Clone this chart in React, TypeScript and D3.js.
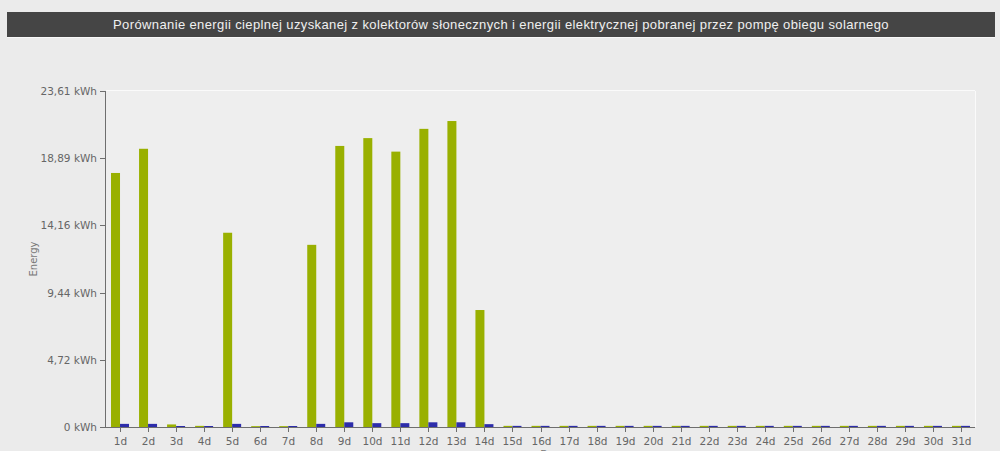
import React from "react";
import * as d3 from "d3";

const days: string[] = Array.from({ length: 31 }, (_, i) => `${i + 1}d`);
const heatEnergy: number[] = [
  17.85, 19.55, 0.18, 0.08, 13.65, 0.06, 0.06, 12.8, 19.75, 20.3, 19.35, 20.95, 21.5, 8.22,
  0.08, 0.08, 0.08, 0.08, 0.08, 0.08, 0.08, 0.08, 0.08, 0.08, 0.08, 0.08, 0.08, 0.08, 0.08, 0.08, 0.08,
];
const pumpEnergy: number[] = [
  0.22, 0.22, 0.07, 0.07, 0.22, 0.07, 0.07, 0.22, 0.33, 0.27, 0.27, 0.33, 0.33, 0.2,
  0.08, 0.08, 0.08, 0.08, 0.08, 0.08, 0.08, 0.08, 0.08, 0.08, 0.08, 0.08, 0.08, 0.08, 0.08, 0.08, 0.08,
];
const yTicks: number[] = [0, 4.72, 9.44, 14.16, 18.89, 23.61];
const yTickLabels: string[] = ["0 kWh", "4,72 kWh", "9,44 kWh", "14,16 kWh", "18,89 kWh", "23,61 kWh"];
const title =
  "Porównanie energii cieplnej uzyskanej z kolektorów słonecznych i energii elektrycznej pobranej przez pompę obiegu solarnego";
const seriesNames = ["heat", "pump"];
const seriesColors = ["#99b000", "#2d2daa"];

export default function App() {
  const W = 1000;
  const H = 451;
  const left = 106;
  const right = 975;
  const top = 91;
  const bottom = 427;

  const x = d3.scaleBand<string>().domain(days).range([left, right]).padding(0);
  const inner = d3.scaleBand<string>().domain(seriesNames).range([0, 18]).padding(0);
  const y = d3.scaleLinear().domain([0, 23.61]).range([bottom, top]);
  const bw = x.bandwidth();
  const off = (bw - 18) / 2;
  const data = [heatEnergy, pumpEnergy];
  const font = "'DejaVu Sans', Verdana, sans-serif";

  return (
    <svg
      width={W}
      height={H}
      style={{ position: "absolute", left: 0, top: 0, display: "block", background: "#ebebeb" }}
    >
      <rect x={0} y={0} width={W} height={H} fill="#ebebeb" />
      {/* title bar */}
      <rect x={7} y={12} width={988} height={25} fill="#454545" />
      <rect x={7} y={37} width={988} height={1} fill="#f8f8f8" />
      <text
        x={501}
        y={29}
        textAnchor="middle"
        fill="#f0f0f0"
        fontFamily="'Liberation Sans', Arial, sans-serif"
        fontSize={13}
        letterSpacing={0.38}
      >
        {title}
      </text>

      {/* plot area */}
      <rect x={left} y={top} width={right - left} height={bottom - top} fill="#eeeeee" />
      <line x1={left} x2={right} y1={top - 0.5} y2={top - 0.5} stroke="#fafafa" />
      <line x1={right + 0.5} x2={right + 0.5} y1={top} y2={bottom} stroke="#fafafa" />

      {/* bars */}
      {data.map((vals, si) =>
        vals.map((v, i) => {
          const bx = (x(days[i]) ?? 0) + off + (inner(seriesNames[si]) ?? 0);
          return (
            <rect
              key={`${si}-${i}`}
              x={bx}
              y={y(v)}
              width={inner.bandwidth()}
              height={bottom - y(v)}
              fill={seriesColors[si]}
            />
          );
        })
      )}

      {/* y axis */}
      <line x1={left - 0.5} x2={left - 0.5} y1={top} y2={bottom} stroke="#6e6e6e" />
      {yTicks.map((t, i) => (
        <g key={t}>
          <line x1={left - 6} x2={left} y1={Math.round(y(t)) + 0.5} y2={Math.round(y(t)) + 0.5} stroke="#6e6e6e" />
          <text
            x={left - 9}
            y={y(t) + 4}
            textAnchor="end"
            fill="#666"
            fontFamily={font}
            fontSize={10.5}
          >
            {yTickLabels[i]}
          </text>
        </g>
      ))}
      <text
        transform={`translate(37,${(top + bottom) / 2}) rotate(-90)`}
        textAnchor="middle"
        fill="#777"
        fontFamily={font}
        fontSize={10}
      >
        Energy
      </text>

      {/* x axis */}
      <line x1={left - 6} x2={right} y1={bottom + 0.5} y2={bottom + 0.5} stroke="#6e6e6e" />
      {days.map((d) => {
        const cx = Math.round((x(d) ?? 0) + bw / 2) + 0.5;
        return (
          <g key={d}>
            <line x1={cx} x2={cx} y1={bottom} y2={bottom + 5} stroke="#6e6e6e" />
            <text x={cx} y={bottom + 18} textAnchor="middle" fill="#666" fontFamily={font} fontSize={10.5}>
              {d}
            </text>
          </g>
        );
      })}
      <text x={550} y={458} textAnchor="middle" fill="#777" fontFamily={font} fontSize={10}>
        Day
      </text>
    </svg>
  );
}
